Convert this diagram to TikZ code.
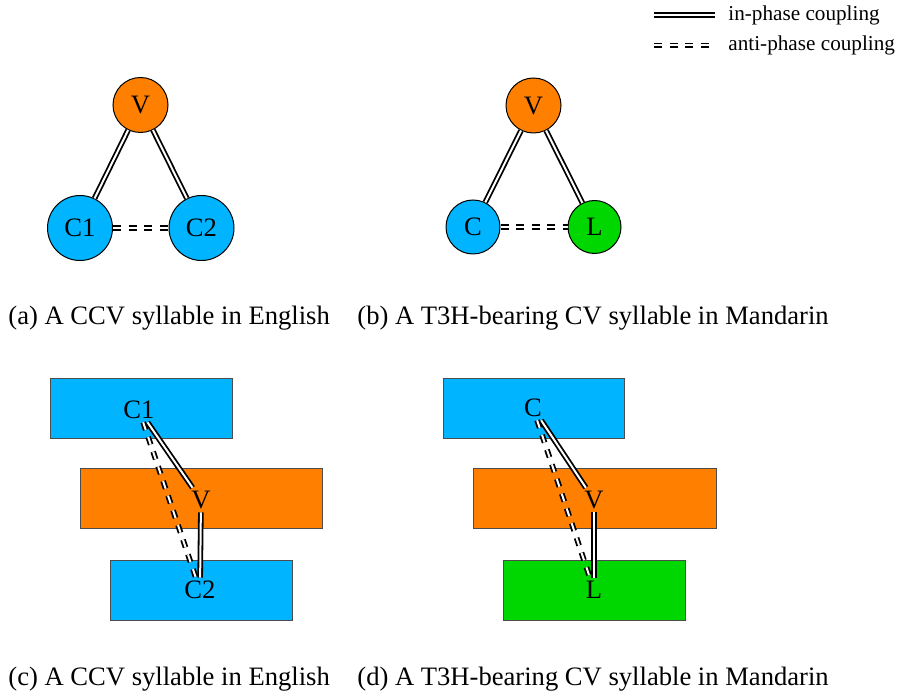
\documentclass[tikz,border=0pt]{standalone}
\usepackage{fontspec}
\setmainfont{Liberation Serif}
\definecolor{cblue}{RGB}{0,180,255}
\definecolor{corange}{RGB}{255,128,0}
\definecolor{cgreen}{RGB}{0,214,0}
\begin{document}
\begin{tikzpicture}[x=0.5pt,y=-0.5pt,
  every node/.style={font=\fontsize{13.3pt}{16pt}\selectfont},
  legendfont/.style={font=\fontsize{10.6pt}{12pt}\selectfont},
  phasebase/.style={line width=0.9pt, double=white, double distance=1pt},
  inphase/.style={phasebase},
  antiphase/.style={phasebase, dash pattern=on 4pt off 3.75pt},
  gest/.style={circle, draw=black, line width=0.5pt, inner sep=0pt},
  band/.style={draw=black!70, line width=0.5pt, minimum height=30pt, inner sep=0pt},
  lab/.style={inner sep=1.5pt},
  captext/.style={anchor=west, inner sep=0pt}]
\useasboundingbox (0,0) rectangle (899,694);

% legend
\coordinate (ipA) at (654,15);
\coordinate (ipB) at (715,15);
\draw[inphase] (ipA) -- (ipB);
\node[legendfont, anchor=west, inner sep=0pt] (iplab) at (728,15) {in-phase coupling};
\coordinate (apA) at (654,45.5);
\coordinate (apB) at (712,45.5);
\draw[antiphase] (apA) -- (apB);
\node[legendfont, anchor=west, inner sep=0pt] (aplab) at (728,45) {anti-phase coupling};

% (a) coupling graph, English CCV
\node[gest, fill=corange, minimum size=27.5pt] (aV) at (140.5,105) {V};
\node[gest, fill=cblue, minimum size=32.5pt] (aC1) at (80,228) {C1};
\node[gest, fill=cblue, minimum size=32.5pt] (aC2) at (201.5,228) {C2};
\draw[inphase] (aV) -- (aC1);
\draw[inphase] (aV) -- (aC2);
\draw[antiphase] (aC1) -- (aC2);
\node[captext] (capa) at (8,318) {(a) A CCV syllable in English};

% (b) coupling graph, Mandarin T3H
\node[gest, fill=corange, minimum size=27.5pt] (bV) at (533.5,105.5) {V};
\node[gest, fill=cblue, minimum size=27pt] (bC) at (473,227) {C};
\node[gest, fill=cgreen, minimum size=26.5pt] (bL) at (594.5,227) {L};
\draw[inphase] (bV) -- (bC);
\draw[inphase] (bV) -- (bL);
\draw[antiphase] (bC) -- (bL);
\node[captext] (capb) at (357,318) {(b) A T3H-bearing CV syllable in Mandarin};

% (c) gestural score, English CCV
\node[band, fill=cblue, minimum width=91pt] (cC1box) at (141,408.5) {};
\node[band, fill=corange, minimum width=121pt] (cVbox) at (201,499) {};
\node[band, fill=cblue, minimum width=91pt] (cC2box) at (201,590) {};
\node[lab] (cC1) at (139,410) {C1};
\node[lab] (cV) at (201,500) {V};
\node[lab] (cC2) at (200,590) {C2};
\draw[antiphase] (cC1) -- (cC2);
\draw[inphase] (cC1) -- (cV);
\draw[inphase] (cV) -- (cC2);
\node[captext] (capc) at (8,679) {(c) A CCV syllable in English};

% (d) gestural score, Mandarin T3H
\node[band, fill=cblue, minimum width=90.5pt] (dCbox) at (533.5,408.5) {};
\node[band, fill=corange, minimum width=121.5pt] (dVbox) at (594.5,499) {};
\node[band, fill=cgreen, minimum width=91pt] (dLbox) at (594,590) {};
\node[lab] (dC) at (533,408) {C};
\node[lab] (dV) at (594,500) {V};
\node[lab] (dL) at (594,590) {L};
\draw[antiphase] (dC) -- (dL);
\draw[inphase] (dC) -- (dV);
\draw[inphase] (dV) -- (dL);
\node[captext] (capd) at (357,679) {(d) A T3H-bearing CV syllable in Mandarin};
\end{tikzpicture}
\end{document}
